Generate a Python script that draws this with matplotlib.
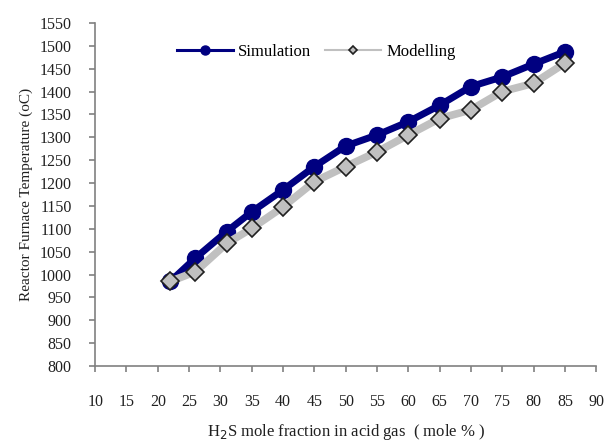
import matplotlib.pyplot as plt
from matplotlib.lines import Line2D

# values
h2s_fraction = [22, 26, 31, 35, 40, 45, 50, 55, 60, 65, 70, 75, 80, 85]
simulation = [985, 1036, 1094, 1137, 1185, 1236, 1281, 1305, 1334, 1370, 1411, 1432, 1460, 1487]
modelling = [985, 1006, 1068, 1101, 1148, 1203, 1236, 1268, 1305, 1341, 1360, 1400, 1418, 1462]

x_ticks = list(range(10, 95, 5))
y_ticks = list(range(800, 1551, 50))

plt.rcParams['font.family'] = ['Liberation Serif', 'DejaVu Serif']


def main():
    fig = plt.figure(figsize=(6.14, 4.41), dpi=100)
    ax = fig.add_axes([0.155, 0.170, 0.816, 0.778])

    ax.plot(h2s_fraction, simulation, color='#000080', lw=5,
            marker='o', ms=11.5, mfc='#000080', mec='#000080', zorder=2)
    ax.plot(h2s_fraction, modelling, color='#c0c0c0', lw=5.5,
            marker='D', ms=9, mfc='#c0c0c0', mec='#202020', mew=1.2, zorder=3)

    ax.set_xlim(10, 90)
    ax.set_ylim(800, 1550)
    ax.set_xticks(x_ticks)
    ax.set_yticks(y_ticks)

    for side in ['top', 'right']:
        ax.spines[side].set_visible(False)
    for side in ['left', 'bottom']:
        ax.spines[side].set_color('#808080')
        ax.spines[side].set_linewidth(1.2)
    ax.tick_params(axis='both', direction='out', length=4, width=1.2,
                   color='#808080', labelsize=11.5, labelcolor='#202020')
    ax.tick_params(axis='y', pad=13)
    ax.tick_params(axis='x', pad=16)

    ax.set_xlabel('H$_2$S mole fraction in acid gas  ( mole % )', fontsize=12,
                  color='#202020', labelpad=9)
    ax.set_ylabel('Reactor Furnace Temperature (oC)', fontsize=11,
                  color='#202020', labelpad=5)

    handles = [
        Line2D([], [], color='#000080', lw=2.2, marker='o', ms=6.5, mfc='#000080'),
        Line2D([], [], color='#c0c0c0', lw=1.5, marker='D', ms=4.5, mfc='#c0c0c0',
               mec='#202020', mew=1.2),
    ]
    ax.legend(handles, ['Simulation', 'Modelling'], ncol=2, frameon=False,
              loc='center', bbox_to_anchor=(0.441, 0.915), fontsize=12,
              handlelength=3.4, columnspacing=0.8, handletextpad=0.3)

    fig.savefig('out.png', dpi=100)


if __name__ == "__main__":
    main()
